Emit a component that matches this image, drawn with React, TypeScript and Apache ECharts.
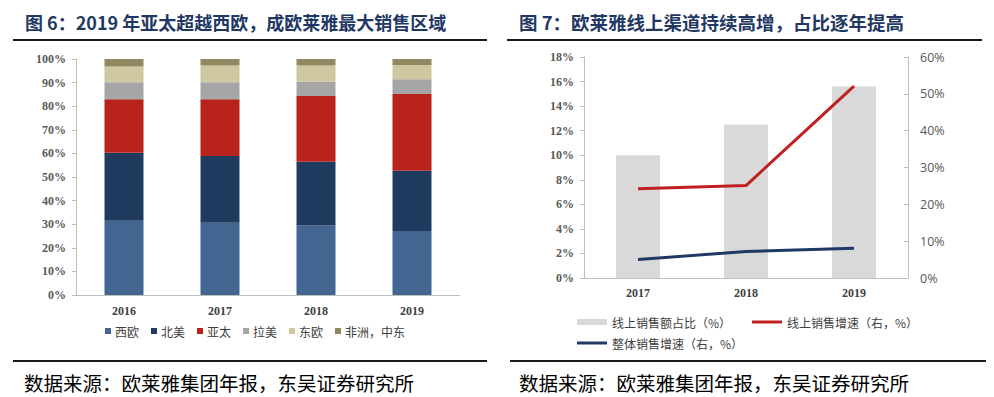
import React, { useEffect, useRef } from "react";
import * as echarts from "echarts";

const years6 = ["2016", "2017", "2018", "2019"];
const regionNames = ["西欧", "北美", "亚太", "拉美", "东欧", "非洲，中东"];
const westEurope = [31.5, 30.6, 29.4, 27.1];
const northAmerica = [28.8, 28.3, 27.1, 25.6];
const asiaPacific = [22.6, 24.0, 27.8, 32.5];
const latinAmerica = [7.2, 7.2, 6.1, 6.2];
const eastEurope = [6.7, 7.1, 6.8, 6.1];
const africaMiddleEast = [3.2, 2.8, 2.8, 2.5];
const regionColors = ["#426591", "#1f3a5f", "#b8241c", "#a6a6a6", "#cfc7a0", "#8f875f"];

const years7 = ["2017", "2018", "2019"];
const onlineShare = [10.0, 12.5, 15.6];
const onlineGrowth = [24.2, 25.1, 52.1];
const totalGrowth = [5.0, 7.2, 8.1];

const titleLeft = "图 6：2019 年亚太超越西欧，成欧莱雅最大销售区域";
const titleRight = "图 7：欧莱雅线上渠道持续高增，占比逐年提高";
const sourceText = "数据来源：欧莱雅集团年报，东吴证券研究所";

const CJK = '"Noto Sans CJK SC", sans-serif';
const SERIF = '"Liberation Serif", "DejaVu Serif", serif';

export default function App() {
  const ref = useRef<HTMLDivElement>(null);
  useEffect(() => {
    if (!ref.current) return;
    const chart = echarts.init(ref.current, null, { renderer: "svg" });
    const regionData = [westEurope, northAmerica, asiaPacific, latinAmerica, eastEurope, africaMiddleEast];
    const axisLine = { show: true, lineStyle: { color: "#bfbfbf", width: 1 } };
    const serifLabel = { fontFamily: SERIF, fontWeight: "bold" as const, fontSize: 12, color: "#595959" };
    chart.setOption({
      animation: false,
      backgroundColor: "#ffffff",
      grid: [
        { left: 76, top: 59, width: 384, height: 236 },
        { left: 584, top: 57, width: 324, height: 221 },
      ],
      xAxis: [
        {
          type: "category", gridIndex: 0, data: years6,
          axisLine, axisTick: { show: false },
          axisLabel: { ...serifLabel, color: "#404040", margin: 10 },
        },
        {
          type: "category", gridIndex: 1, data: years7,
          axisLine, axisTick: { show: false },
          axisLabel: { ...serifLabel, color: "#404040", margin: 9 },
        },
      ],
      yAxis: [
        {
          type: "value", gridIndex: 0, min: 0, max: 100, interval: 10,
          axisLine, axisTick: { show: true, length: 4, lineStyle: { color: "#bfbfbf" } },
          splitLine: { show: false },
          axisLabel: { ...serifLabel, formatter: "{value}%", margin: 10 },
        },
        {
          type: "value", gridIndex: 1, min: 0, max: 18, interval: 2,
          axisLine, axisTick: { show: true, length: 4, lineStyle: { color: "#bfbfbf" } },
          splitLine: { show: false },
          axisLabel: { ...serifLabel, formatter: "{value}%", margin: 10 },
        },
        {
          type: "value", gridIndex: 1, min: 0, max: 60, interval: 10, position: "right",
          axisLine, axisTick: { show: true, inside: true, length: 4, lineStyle: { color: "#bfbfbf" } },
          splitLine: { show: false },
          axisLabel: { fontFamily: '"Open Sans", sans-serif', fontSize: 12.5, color: "#595959", formatter: "{value}%", margin: 12 },
        },
      ],
      legend: [
        {
          data: regionNames, left: 100, top: 320, itemWidth: 6, itemHeight: 6, itemGap: 12, icon: "rect",
          textStyle: { fontFamily: CJK, fontSize: 12, color: "#404040", padding: [0, 0, 0, -1] },
        },
        {
          data: [{ name: "线上销售额占比（%）", icon: "rect" }], left: 572, top: 311, itemWidth: 30, itemHeight: 6, itemGap: 5,
          textStyle: { fontFamily: CJK, fontSize: 12, color: "#404040" },
        },
        {
          data: [{ name: "线上销售增速（右，%）", icon: "rect" }], left: 747, top: 311, itemWidth: 30, itemHeight: 3,
          textStyle: { fontFamily: CJK, fontSize: 12, color: "#404040" },
        },
        {
          data: [{ name: "整体销售增速（右，%）", icon: "rect" }], left: 572, top: 332, itemWidth: 30, itemHeight: 3,
          textStyle: { fontFamily: CJK, fontSize: 12, color: "#404040" },
        },
      ],
      series: [
        ...regionNames.map((name, i) => ({
          name, type: "bar", stack: "regions", xAxisIndex: 0, yAxisIndex: 0,
          data: regionData[i], barWidth: 39, itemStyle: { color: regionColors[i] },
        })),
        {
          name: "线上销售额占比（%）", type: "bar", xAxisIndex: 1, yAxisIndex: 1,
          data: onlineShare, barWidth: 44, itemStyle: { color: "#d9d9d9" },
        },
        {
          name: "线上销售增速（右，%）", type: "line", xAxisIndex: 1, yAxisIndex: 2,
          data: onlineGrowth, symbol: "none", lineStyle: { color: "#c0201f", width: 3 }, itemStyle: { color: "#c0201f" },
        },
        {
          name: "整体销售增速（右，%）", type: "line", xAxisIndex: 1, yAxisIndex: 2,
          data: totalGrowth, symbol: "none", lineStyle: { color: "#1f3864", width: 3 }, itemStyle: { color: "#1f3864" },
        },
      ],
      graphic: [
        { type: "text", x: 25, y: 22, style: { text: titleLeft, font: `bold 18px ${CJK}`, fill: "#1f3864", textVerticalAlign: "middle" } },
        { type: "text", x: 519, y: 22, style: { text: titleRight, font: `bold 18.5px ${CJK}`, fill: "#1f3864", textVerticalAlign: "middle" } },
        { type: "line", shape: { x1: 13, y1: 40, x2: 487, y2: 40 }, style: { stroke: "#1a1a1a", lineWidth: 2 } },
        { type: "line", shape: { x1: 507, y1: 40, x2: 982, y2: 40 }, style: { stroke: "#1a1a1a", lineWidth: 2 } },
        { type: "line", shape: { x1: 13, y1: 361, x2: 487, y2: 361 }, style: { stroke: "#1a1a1a", lineWidth: 2 } },
        { type: "line", shape: { x1: 510, y1: 361, x2: 986, y2: 361 }, style: { stroke: "#1a1a1a", lineWidth: 2 } },
        { type: "text", x: 24, y: 382, style: { text: sourceText, font: `19.5px ${CJK}`, fill: "#000000", textVerticalAlign: "middle" } },
        { type: "text", x: 519, y: 382, style: { text: sourceText, font: `19.5px ${CJK}`, fill: "#000000", textVerticalAlign: "middle" } },
      ],
    });
    return () => chart.dispose();
  }, []);
  return <div ref={ref} style={{ position: "fixed", left: 0, top: 0, width: 994, height: 397 }} />;
}
